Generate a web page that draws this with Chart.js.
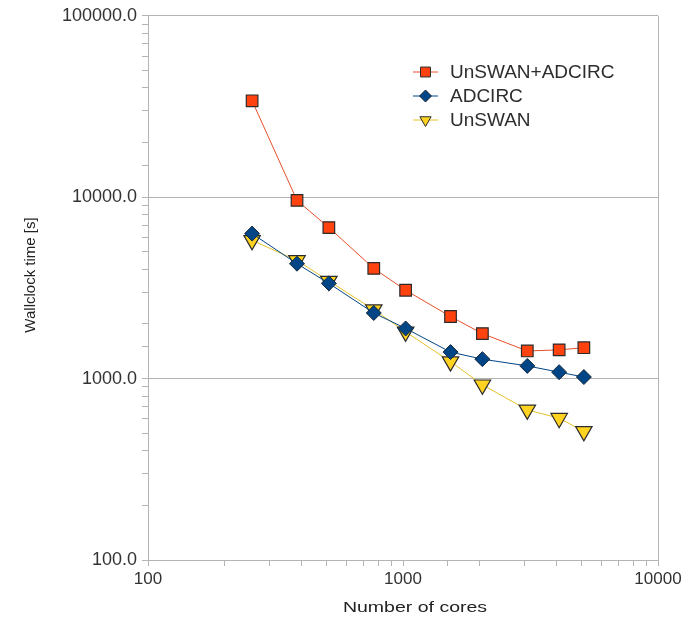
<!DOCTYPE html>
<html>
<head>
<meta charset="utf-8">
<script src="https://cdn.jsdelivr.net/npm/chart.js@4.4.1/dist/chart.umd.min.js"></script>
<style>
    body { margin: 0; background: #fff; }
</style>
</head>
<body>
<canvas id="scalingChart" width="693" height="623"></canvas>
<script>
// Wallclock time vs number of cores (log-log)
const cores = [256, 384, 512, 768, 1024, 1536, 2048, 3072, 4096, 5120];
const coupledTime = [34000, 9600, 6800, 4050, 3070, 2200, 1770, 1420, 1440, 1480];
const adcircTime = [6300, 4300, 3350, 2300, 1890, 1400, 1280, 1175, 1085, 1020];
const unswanTime = [5780, 4480, 3450, 2400, 1810, 1240, 925, 672, 605, 512];
const seriesNames = ['UnSWAN+ADCIRC', 'ADCIRC', 'UnSWAN'];
const xTitle = 'Number of cores';
const yTitle = 'Wallclock time [s]';

const gridGray = '#b3b3b3';
const fontFamily = '"Liberation Sans", Arial, sans-serif';

function isDecade(v) {
    const p = Math.log10(v);
    return Math.abs(p - Math.round(p)) < 1e-9;
}

function toPoints(ys) {
    return cores.map((c, i) => ({ x: c, y: ys[i] }));
}

// legend inside the plot area + axis titles (text is a bit wide in the original)
const extras = {
    id: 'extras',
    afterDraw(chart) {
        const ctx = chart.ctx;
        const x0 = 413, lineLen = 25, y0 = 72, rowGap = 24;
        chart.data.datasets.forEach((ds, i) => {
            const y = y0 + i * rowGap;
            ctx.save();
            ctx.strokeStyle = ds.borderColor;
            ctx.lineWidth = 1;
            ctx.beginPath();
            ctx.moveTo(x0, y);
            ctx.lineTo(x0 + lineLen, y);
            ctx.stroke();
            ctx.fillStyle = ds.pointBackgroundColor;
            ctx.strokeStyle = ds.pointBorderColor;
            Chart.helpers.drawPoint(ctx, {
                pointStyle: ds.pointStyle,
                rotation: ds.pointRotation || 0,
                radius: ds.legendRadius,
                borderWidth: 1
            }, x0 + lineLen / 2, y);
            ctx.fillStyle = '#2d2d2d';
            ctx.font = '19px ' + fontFamily;
            ctx.textBaseline = 'middle';
            ctx.fillText(ds.label, 450, y + 1);
            ctx.restore();
        });

        ctx.save();
        ctx.fillStyle = '#222';
        ctx.textAlign = 'center';
        ctx.textBaseline = 'middle';
        ctx.font = '15px ' + fontFamily;
        ctx.translate(415, 608);
        ctx.scale(1.3, 1);
        ctx.fillText(xTitle, 0, 0);
        ctx.restore();

        ctx.save();
        ctx.fillStyle = '#222';
        ctx.textAlign = 'center';
        ctx.textBaseline = 'middle';
        ctx.font = '15px ' + fontFamily;
        ctx.translate(31, 275);
        ctx.rotate(-Math.PI / 2);
        ctx.fillText(yTitle, 0, 0);
        ctx.restore();
    }
};

new Chart(document.getElementById('scalingChart'), {
    type: 'line',
    data: {
        datasets: [
            {
                label: seriesNames[0],
                data: toPoints(coupledTime),
                borderColor: '#e8502a',
                borderWidth: 1,
                pointStyle: 'rect',
                pointRadius: 8.2,
                pointBackgroundColor: '#ff420e',
                pointBorderColor: '#2b2b2b',
                pointBorderWidth: 1.2,
                legendRadius: 7
            },
            {
                label: seriesNames[1],
                data: toPoints(adcircTime),
                borderColor: '#004586',
                borderWidth: 1,
                pointStyle: 'rectRot',
                pointRadius: 7.5,
                pointBackgroundColor: '#004586',
                pointBorderColor: '#1a2a3a',
                pointBorderWidth: 1,
                legendRadius: 6
            },
            {
                label: seriesNames[2],
                data: toPoints(unswanTime),
                borderColor: '#e6c229',
                borderWidth: 1,
                pointStyle: 'triangle',
                pointRotation: 180,
                pointRadius: 9.5,
                pointBackgroundColor: '#ffd320',
                pointBorderColor: '#2b2b2b',
                pointBorderWidth: 1.2,
                legendRadius: 6.5
            }
        ]
    },
    options: {
        responsive: false,
        animation: false,
        layout: {
            padding: { left: 0, right: 35, top: 15, bottom: 0 }
        },
        plugins: {
            legend: { display: false },
            tooltip: { enabled: false }
        },
        scales: {
            x: {
                type: 'logarithmic',
                min: 100,
                max: 10000,
                afterFit: function (scale) { scale.height = 63; },
                border: { color: gridGray, width: 1 },
                grid: {
                    color: ctx => ctx.tick && ctx.tick.value === 10000 ? gridGray : 'rgba(0,0,0,0)',
                    tickColor: gridGray,
                    tickLength: 6
                },
                ticks: {
                    autoSkip: false,
                    maxRotation: 0,
                    padding: 3,
                    color: '#333',
                    font: { family: fontFamily, size: 17 },
                    callback: v => isDecade(v) ? String(v) : ''
                }
            },
            y: {
                type: 'logarithmic',
                min: 100,
                max: 100000,
                afterFit: function (scale) { scale.width = 148; },
                border: { color: gridGray, width: 1 },
                grid: {
                    color: ctx => ctx.tick && isDecade(ctx.tick.value) ? gridGray : 'rgba(0,0,0,0)',
                    tickColor: gridGray,
                    tickLength: 6
                },
                ticks: {
                    autoSkip: false,
                    padding: 5,
                    color: '#333',
                    font: { family: fontFamily, size: 18 },
                    callback: v => isDecade(v) ? v.toFixed(1) : ''
                }
            }
        }
    },
    plugins: [extras]
});
</script>
</body>
</html>
